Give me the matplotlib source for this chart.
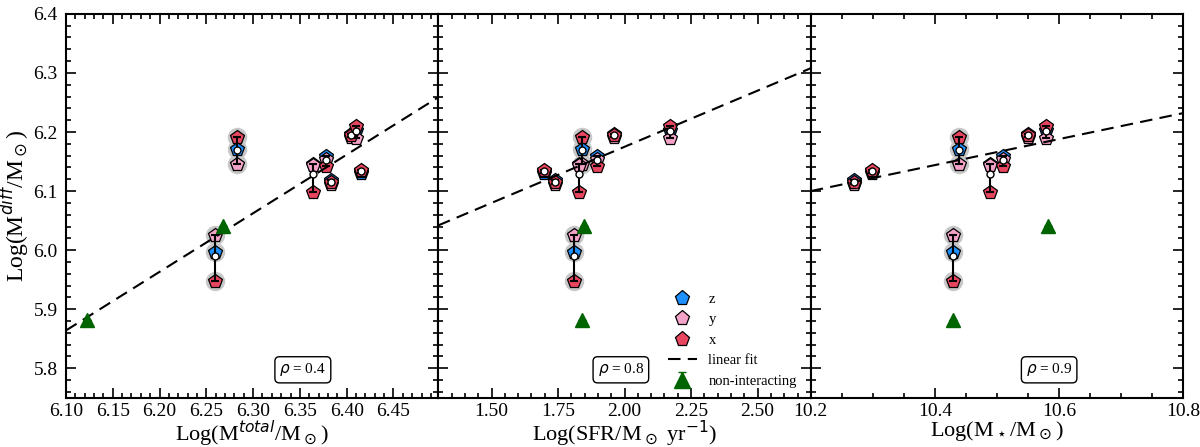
import numpy as np
import matplotlib
matplotlib.use('Agg')
import matplotlib.pyplot as plt
from matplotlib.ticker import MultipleLocator, FormatStrFormatter

plt.rcParams['font.family'] = ['Liberation Serif', 'DejaVu Serif']
plt.rcParams['mathtext.fontset'] = 'dejavusans'

# log M_diff of each galaxy for the three projections
mdiff_x = [6.192, 5.947, 6.098, 6.142, 6.116, 6.195, 6.211, 6.136]
mdiff_y = [6.146, 6.026, 6.144, 6.155, 6.112, 6.192, 6.190, 6.134]
mdiff_z = [6.171, 5.997, 6.145, 6.160, 6.118, 6.196, 6.203, 6.130]
halo = [True, True, False, False, False, False, False, False]

# galaxy properties
mtotal = [6.2825, 6.259, 6.364, 6.378, 6.383, 6.405, 6.410, 6.415]
sfr = [1.839, 1.808, 1.829, 1.898, 1.739, 1.959, 2.170, 1.698]
mstar = [10.438, 10.429, 10.489, 10.509, 10.269, 10.550, 10.579, 10.298]

# non-interacting systems
nonint_mdiff = [5.882, 6.041]
nonint_mtotal = [6.122, 6.268]
nonint_sfr = [1.839, 1.849]
nonint_mstar = [10.429, 10.582]

# linear fits (slope, intercept) and correlation coefficients
fits = [(0.992, -0.1871), (0.190, 5.795), (0.220, 3.856)]
rhos = ['0.4', '0.8', '0.9']

c_x = '#e8455f'
c_y = '#f4a3c8'
c_z = '#1e90ff'
c_green = '#006400'

panels = [
    (mtotal, nonint_mtotal, r'Log(M$^{total}$/M$_\odot$)', (6.1, 6.498), 0.05, 0.01, '%.2f', 0.636),
    (sfr, nonint_sfr, r'Log(SFR/M$_\odot$ yr$^{-1}$)', (1.3, 2.7), 0.25, 0.05, '%.2f', 0.49),
    (mstar, nonint_mstar, r'Log(M$_\star$/M$_\odot$)', (10.2, 10.8), 0.2, 0.05, '%.1f', 0.64),
]

mx = np.array(mdiff_x)
my = np.array(mdiff_y)
mz = np.array(mdiff_z)
allm = np.vstack([mx, my, mz])
mean = allm.mean(axis=0)
lo = mean - allm.min(axis=0)
hi = allm.max(axis=0) - mean
halo = np.array(halo)

fig, axes = plt.subplots(1, 3, figsize=(12, 4.47), dpi=100, sharey=True)
fig.subplots_adjust(left=0.055, right=0.986, top=0.969, bottom=0.11, wspace=0)

for i, (ax, panel) in enumerate(zip(axes, panels)):
    xv, nx, xlabel, xlim, major, minor, fmt, rho_x = panel
    xv = np.array(xv)

    # grey halos
    for vals in (mz, my, mx):
        ax.plot(xv[halo], vals[halo], 'o', ms=14, color='#c8c8c8', mec='none', zorder=1)

    hz, = ax.plot(xv, mz, 'p', ms=10, color=c_z, mec='black', mew=0.9, zorder=2, label='z')
    hy, = ax.plot(xv, my, 'p', ms=10, color=c_y, mec='black', mew=0.9, zorder=2, label='y')
    hx, = ax.plot(xv, mx, 'p', ms=10, color=c_x, mec='black', mew=0.9, zorder=2, label='x')

    ax.errorbar(xv, mean, yerr=[lo, hi], fmt='none', ecolor='black', elinewidth=1.5,
                capsize=3, capthick=1.5, zorder=3)
    ax.plot(xv, mean, 'o', ms=5, color='white', mec='black', mew=1, zorder=4)

    xx = np.linspace(xlim[0], xlim[1], 100)
    hfit, = ax.plot(xx, fits[i][0] * xx + fits[i][1], color='black', lw=1.5,
                    dashes=(6, 3.5), zorder=2, label='linear fit')

    hn = ax.errorbar(nx, nonint_mdiff, yerr=[[0, 0], [0, 0]], fmt='^', ms=10, color=c_green,
                     ecolor=c_green, capsize=3, zorder=2, label='non-interacting')

    ax.text(rho_x, 0.073, r'$\rho$ = ' + rhos[i], transform=ax.transAxes, fontsize=11,
            ha='center', va='center',
            bbox=dict(boxstyle='round,pad=0.3', fc='white', ec='black', lw=1))

    ax.set_xlim(xlim)
    ax.set_ylim(5.75, 6.4)
    ax.xaxis.set_major_locator(MultipleLocator(major))
    ax.xaxis.set_minor_locator(MultipleLocator(minor))
    ax.xaxis.set_major_formatter(FormatStrFormatter(fmt))
    ax.yaxis.set_major_locator(MultipleLocator(0.1))
    ax.yaxis.set_minor_locator(MultipleLocator(0.02))
    ax.tick_params(which='both', direction='in', top=True, right=True, labelsize=14, width=1.2)
    ax.tick_params(which='major', length=7)
    ax.tick_params(axis='y', which='major', pad=6)
    ax.tick_params(which='minor', length=3.5)
    for s in ax.spines.values():
        s.set_linewidth(1.5)
    ax.set_xlabel(xlabel, fontsize=16)
    ax.xaxis.set_label_coords(0.5, -0.055)

    if i == 1:
        ax.legend(handles=[hz, hy, hx, hfit, hn], loc='lower right', frameon=False,
                  fontsize=10.5, markerscale=1.1, handlelength=2.0, labelspacing=0.5,
                  borderaxespad=0.3, bbox_to_anchor=(0.99, 0.0))

axes[0].set_ylabel(r'Log(M$^{diff}$/M$_\odot$)', fontsize=17)
axes[0].yaxis.set_label_coords(-0.092, 0.5)
axes[0].yaxis.set_major_formatter(FormatStrFormatter('%.1f'))

plt.savefig('out.png', dpi=100)
